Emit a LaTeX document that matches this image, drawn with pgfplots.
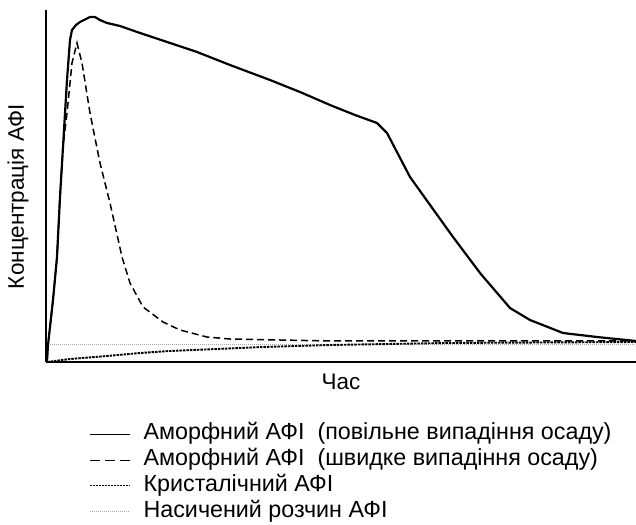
\documentclass[border=0pt]{standalone}
\usepackage{fontspec}
\setmainfont{Liberation Sans}
\usepackage{pgfplots}
\pgfplotsset{compat=1.18}
\begin{document}
\fontsize{22pt}{26pt}\selectfont
\begin{tikzpicture}
\path[use as bounding box] (0,0) rectangle (636pt,524pt);
\begin{axis}[
  at={(46pt,162pt)}, anchor=south west,
  scale only axis, width=590pt, height=352pt,
  xmin=0, xmax=590, ymin=0, ymax=352,
  axis x line=bottom, axis y line=left,
  axis line style={-, line width=2pt, black},
  xtick=\empty, ytick=\empty,
  clip=false,
  xlabel={Час}, ylabel={Концентрація АФІ},
  label style={font=\fontsize{22.5pt}{26pt}\selectfont},
  xlabel style={at={(axis description cs:0.5,-0.057)}, anchor=center},
  ylabel style={at={(axis description cs:-0.0475,0.47)}, anchor=center, rotate=0},
  legend style={at={(axis description cs:0.0746,-0.170)}, anchor=north west,
    draw=none, fill=none, inner sep=0pt, outer sep=0pt, row sep=1.4pt,
    font=\fontsize{23.3pt}{26pt}\selectfont,
    nodes={inner sep=1.75pt, text height=16pt, text depth=5pt},
    /tikz/every odd column/.append style={column sep=11pt}},
  legend cell align=left,
  legend image code/.code={\draw[#1] (0pt,0pt) -- (40pt,0pt);},
]
% saturated solution
\addplot[forget plot, gray!70, line width=0.8pt, dash pattern=on 1pt off 1pt] coordinates {(4,18) (590,18)};
% crystalline
\addplot[forget plot, black, line width=1.9pt, dash pattern=on 2.5pt off 1pt] coordinates {
(1,0) (24,3) (61,6) (94,9) (124,11) (217,15) (284,17) (400,19) (590,20)};
% fast precipitation
\addplot[forget plot, black, line width=1.5pt, dash pattern=on 7pt off 4pt] coordinates {
(1,1) (2,17) (7,62) (11,105) (14,165) (17,215) (19,232) (21,249) (26,299) (31,319)
(36,299) (44,249) (54,199) (64,159) (76,105) (84,79) (97,55) (117,40) (134,32)
(161,25) (184,23) (284,21) (590,21)};
% slow precipitation
\addplot[forget plot, black, line width=2.2pt] coordinates {
(1,1) (2,17) (7,62) (11,105) (14,165) (17,215) (21,282) (24,322) (26,332) (30,337)
(34,340) (44,345) (49,345) (54,342) (61,339) (74,336) (94,329) (124,319) (151,310)
(184,297) (224,282) (254,270) (284,257) (309,247) (331,239) (341,229) (364,185)
(407,125) (434,89) (464,54) (484,42) (517,29) (551,25) (590,21)};
\addlegendimage{black, line width=0.8pt}
\addlegendentry{Аморфний АФІ\ \ (повільне випадіння осаду)}
\addlegendimage{black, line width=0.8pt, dash pattern=on 10pt off 5pt}
\addlegendentry{Аморфний АФІ\ \ (швидке випадіння осаду)}
\addlegendimage{black, line width=0.8pt, dash pattern=on 2pt off 1pt}
\addlegendentry{Кристалічний АФІ}
\addlegendimage{gray!70, line width=0.6pt, dash pattern=on 1pt off 1pt}
\addlegendentry{Насичений розчин АФІ}
\end{axis}
\end{tikzpicture}
\end{document}
